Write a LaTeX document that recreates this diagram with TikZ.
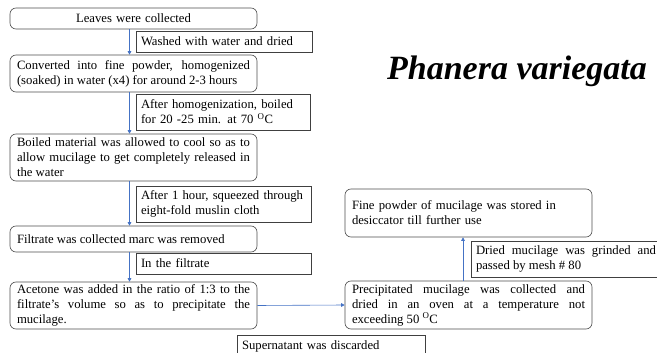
\documentclass[tikz,border=0pt]{standalone}
\usepackage{fontspec}
\setmainfont{Liberation Serif}
\newfontfamily\titlefont{Liberation Serif Bold Italic}
\usetikzlibrary{arrows.meta}
\definecolor{arrblue}{HTML}{4472C4}
\begin{document}
\begin{tikzpicture}[x=1pt,y=-1pt,
  every node/.style={font=\fontsize{12.7}{15}\selectfont},
  mainbox/.style={draw=black!70, line width=0.6pt, rounded corners=6pt,
    inner xsep=7pt, inner ysep=0pt, text width=233pt, align=justify},
  labbox/.style={draw=black!75, line width=0.6pt, inner xsep=5pt,
    inner ysep=0pt, align=left},
  arr/.style={draw=arrblue, line width=0.6pt, -{Triangle[length=3.5pt,width=3.5pt]}}
]
\clip (0,0) rectangle (657,353);
% main boxes
\node[mainbox, align=center, minimum height=21pt] (b1) at (133.5,18.5) {Leaves were collected};
\node[mainbox, minimum height=37pt] (b2) at (133.5,73.5)
  {Converted into fine powder, homogenized\linebreak (soaked) in water (x4) for around 2-3 hours};
\node[mainbox, minimum height=47pt] (b3) at (133.5,157.5)
  {Boiled material was allowed to cool so as to\linebreak allow mucilage to get completely released in\linebreak the water};
\node[mainbox, minimum height=26pt] (b4) at (133.5,239)
  {Filtrate was collected marc was removed};
\node[mainbox, minimum height=47pt] (b5) at (133.5,305.5)
  {Acetone was added in the ratio of 1:3 to the\linebreak filtrate's volume so as to precipitate the\linebreak mucilage.};
\node[mainbox, minimum height=48pt] (b6) at (468.5,305)
  {Precipitated mucilage was collected and\linebreak dried in an oven at a temperature not\linebreak exceeding 50 \textsuperscript{O}C};
\node[mainbox, align=left, minimum height=48pt] (b7) at (468.5,213)
  {Fine powder of mucilage was stored in\\ desiccator till further use};
% label boxes
\node[labbox, text width=166pt, minimum height=21pt] (l1) at (224,41.5)
  {Washed with water and dried};
\node[labbox, text width=164pt, minimum height=36pt] (l2) at (223,112)
  {After homogenization, boiled\\ for 20 -25 min. at 70 \textsuperscript{O}C};
\node[labbox, text width=165pt, minimum height=36pt] (l3) at (223.5,204)
  {After 1 hour, squeezed through\\ eight-fold muslin cloth};
\node[labbox, text width=165pt, minimum height=21pt] (l4) at (223.5,263.5)
  {In the filtrate};
\node[labbox, text width=178pt, minimum height=22pt] (l5) at (331,346)
  {Supernatant was discarded};
\node[labbox, text width=180pt, minimum height=36pt, align=justify] (l6) at (566,259)
  {Dried mucilage was grinded and\linebreak passed by mesh \# 80};
% title
\node[font=\titlefont\fontsize{34}{36}\selectfont, anchor=base] (title) at (517,80) {Phanera variegata};
% arrows
\draw[arr] ([xshift=-4pt]b1.south) -- ([xshift=-4pt]b2.north);
\draw[arr] ([xshift=-4pt]b2.south) -- ([xshift=-4pt]b3.north);
\draw[arr] ([xshift=-4pt]b3.south) -- ([xshift=-4pt]b4.north);
\draw[arr] ([xshift=-4pt]b4.south) -- ([xshift=-4pt]b5.north);
\draw[arr] (b5.east) -- (b6.west);
\draw[arr] ([xshift=-5.5pt]b6.north) -- ([xshift=-5.5pt]b7.south);
\end{tikzpicture}
\end{document}
